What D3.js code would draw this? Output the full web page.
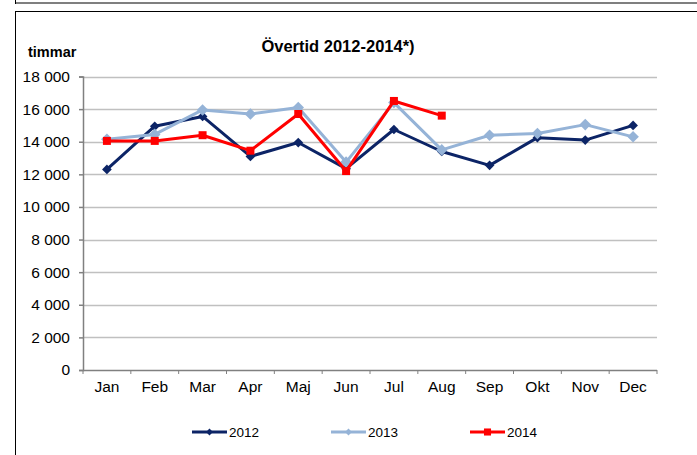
<!DOCTYPE html>
<html>
<head>
<meta charset="utf-8">
<script src="https://cdn.jsdelivr.net/npm/d3@7"></script>
<style>
  body { margin: 0; background: #fff; }
  svg { display: block; font-family: "Liberation Sans", Arial, sans-serif; }
</style>
</head>
<body>
<svg id="chart" width="697" height="455"></svg>
<script>
"use strict";

// ----------------------------------------
//  Data
// ----------------------------------------
const months = ["Jan", "Feb", "Mar", "Apr", "Maj", "Jun", "Jul", "Aug", "Sep", "Okt", "Nov", "Dec"];
const yTicks = [0, 2000, 4000, 6000, 8000, 10000, 12000, 14000, 16000, 18000];
const values2012 = [12300, 14950, 15550, 13100, 13950, 12350, 14750, 13400, 12550, 14250, 14100, 15000];
const values2013 = [14150, 14450, 15950, 15700, 16100, 12750, 16400, 13500, 14400, 14500, 15050, 14300];
const values2014 = [14050, 14050, 14400, 13450, 15700, 12200, 16500, 15600];

const series = [
    { name: "2012", values: values2012, color: "#0c2466", marker: "diamond", size: 60 },
    { name: "2013", values: values2013, color: "#95b3d7", marker: "diamond", size: 85 },
    { name: "2014", values: values2014, color: "#ff0000", marker: "square", size: 64 }
];

const svg = d3.select("#chart");

// frame lines from the surrounding document
svg.append("line").attr("x1", 15).attr("x2", 697).attr("y1", 3).attr("y2", 3)
    .attr("stroke", "#7f7f7f").attr("stroke-width", 2);
svg.append("line").attr("x1", 15.5).attr("x2", 15.5).attr("y1", 0).attr("y2", 4)
    .attr("stroke", "#000");
svg.append("line").attr("x1", 15).attr("x2", 697).attr("y1", 11.5).attr("y2", 11.5)
    .attr("stroke", "#000");
svg.append("line").attr("x1", 15.5).attr("x2", 15.5).attr("y1", 11).attr("y2", 455)
    .attr("stroke", "#000");

// ----------------------------------------
//  Scales
// ----------------------------------------
const plotLeft = 83, plotRight = 657, plotTop = 76.5, plotBottom = 370;

const x = d3.scaleBand().domain(months).range([plotLeft, plotRight]);
const y = d3.scaleLinear().domain([0, 18000]).range([plotBottom, plotTop]);
const cx = d => x(d) + x.bandwidth() / 2;

// gridlines
svg.append("g")
    .selectAll("line")
    .data(yTicks.filter(d => d > 0))
    .enter().append("line")
    .attr("x1", plotLeft).attr("x2", plotRight)
    .attr("y1", d => Math.round(y(d)) + 0.5).attr("y2", d => Math.round(y(d)) + 0.5)
    .attr("stroke", "#c0c0c0").attr("stroke-width", 1.5);

// y axis
const fmt = d => d3.format(",")(d).replace(/,/g, " ");
const yAxis = svg.append("g")
    .attr("transform", "translate(" + plotLeft + ",0)")
    .call(d3.axisLeft(y).tickValues(yTicks).tickFormat(fmt).tickSize(4).tickPadding(9));
yAxis.selectAll("text").attr("font-size", 15.5).attr("fill", "#000")
    .attr("font-family", "Liberation Sans, Arial, sans-serif");

// x axis with ticks at category boundaries
const xAxis = svg.append("g")
    .attr("transform", "translate(0," + plotBottom + ")")
    .call(d3.axisBottom(x).tickSize(0).tickPadding(11));
xAxis.selectAll("text").attr("font-size", 15.5).attr("fill", "#000")
    .attr("font-family", "Liberation Sans, Arial, sans-serif");
xAxis.selectAll(".boundary")
    .data(d3.range(months.length + 1))
    .enter().append("line")
    .attr("class", "boundary")
    .attr("x1", i => plotLeft + i * x.bandwidth()).attr("x2", i => plotLeft + i * x.bandwidth())
    .attr("y1", 0).attr("y2", 4)
    .attr("stroke", "#808080");

svg.selectAll(".domain, .tick line").attr("stroke", "#808080").attr("stroke-width", 1.5);
xAxis.select(".domain").attr("d", "M" + plotLeft + ",0.5H" + plotRight);

// ----------------------------------------
//  Lines and markers
// ----------------------------------------
const line = d3.line().x((d, i) => cx(months[i])).y(d => y(d));

series.forEach(s => {
    const g = svg.append("g");
    g.append("path")
        .datum(s.values)
        .attr("d", line)
        .attr("fill", "none")
        .attr("stroke", s.color)
        .attr("stroke-width", 3)
        .attr("stroke-linejoin", "round");
    const sym = d3.symbol()
        .type(s.marker === "square" ? d3.symbolSquare : d3.symbolDiamond2)
        .size(s.size);
    g.selectAll("path.m")
        .data(s.values)
        .enter().append("path")
        .attr("class", "m")
        .attr("transform", (d, i) => "translate(" + cx(months[i]) + "," + y(d) + ")")
        .attr("d", sym)
        .attr("fill", s.color);
});

// ----------------------------------------
//  Titles
// ----------------------------------------
svg.append("text")
    .attr("x", 338).attr("y", 52)
    .attr("text-anchor", "middle")
    .attr("font-size", 16.5).attr("font-weight", "bold")
    .text("Övertid 2012-2014*)");

svg.append("text")
    .attr("x", 28).attr("y", 57)
    .attr("font-size", 14.5).attr("font-weight", "bold")
    .text("timmar");

// ----------------------------------------
//  Legend
// ----------------------------------------
const legendX = [192, 331, 470];
series.forEach((s, i) => {
    const g = svg.append("g").attr("transform", "translate(" + legendX[i] + ",432)");
    g.append("line").attr("x1", 0).attr("x2", 35).attr("y1", 0).attr("y2", 0)
        .attr("stroke", s.color).attr("stroke-width", 3);
    g.append("path")
        .attr("transform", "translate(17.5,0)")
        .attr("d", d3.symbol()
            .type(s.marker === "square" ? d3.symbolSquare : d3.symbolDiamond2)
            .size(s.marker === "square" ? 50 : 30))
        .attr("fill", s.color);
    g.append("text").attr("x", 37).attr("y", 5)
        .attr("font-size", 13.5)
        .text(s.name);
});
</script>
</body>
</html>
